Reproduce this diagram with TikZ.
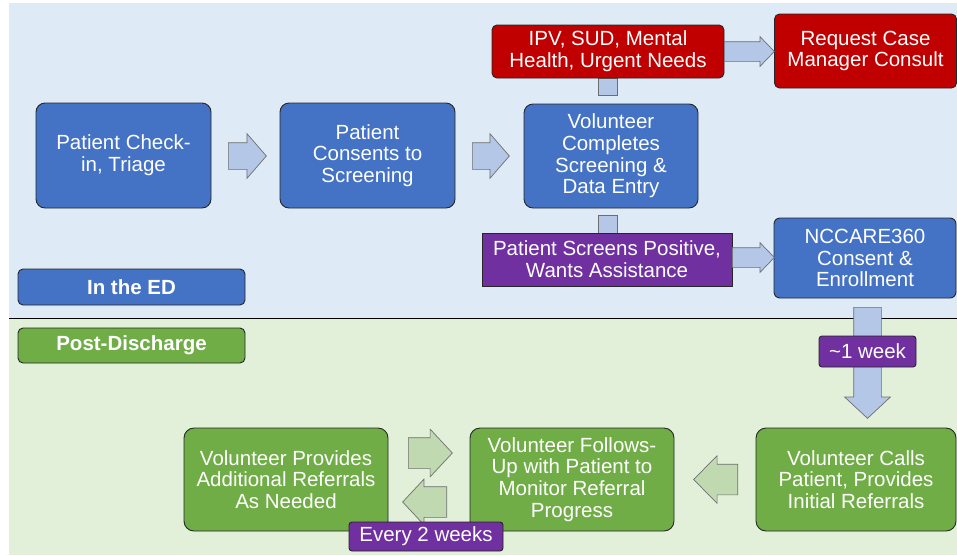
\documentclass[tikz,border=0pt]{standalone}
\usepackage{fontspec}
\setmainfont{Liberation Sans}
\usetikzlibrary{shapes.arrows}
\definecolor{bgblue}{HTML}{DEEBF7}
\definecolor{bggreen}{HTML}{E2F0D9}
\definecolor{boxblue}{HTML}{4472C4}
\definecolor{boxred}{HTML}{C00000}
\definecolor{boxpurple}{HTML}{7030A0}
\definecolor{boxgreen}{HTML}{70AD47}
\definecolor{arrblue}{HTML}{B4C7E7}
\definecolor{arrgreen}{HTML}{C0D9B0}
\definecolor{edgecol}{HTML}{262626}
\definecolor{arredge}{HTML}{6E6E6E}
\begin{document}
\begin{tikzpicture}[x=1pt,y=-1pt,
  box/.style={draw=edgecol, line width=0.9pt, text=white, align=center, inner sep=0pt,
    font=\fontsize{20.5}{21.7}\selectfont},
  sz/.style 2 args={minimum width=#1pt, minimum height=#2pt},
  bluebox/.style={box, fill=boxblue, rounded corners=9pt},
  redbox/.style={box, fill=boxred, rounded corners=5pt},
  purplebox/.style={box, fill=boxpurple},
  tagbox/.style={box, fill=boxpurple, rounded corners=3pt},
  greenbox/.style={box, fill=boxgreen, rounded corners=10pt},
  labelblue/.style={box, fill=boxblue, rounded corners=5pt, font=\fontsize{20.5}{21.7}\selectfont\bfseries},
  labelgreen/.style={box, fill=boxgreen, rounded corners=5pt, font=\fontsize{20.5}{21.7}\selectfont\bfseries},
  blockarrow/.style n args={4}{single arrow, draw=arredge, line width=0.7pt, inner xsep=0pt,
    minimum height=#1pt, inner ysep=#2pt, single arrow head extend=#3pt,
    single arrow tip angle=#4, minimum width=0pt, anchor=tail},
  barrow/.style={fill=arrblue},
  garrow/.style={fill=arrgreen},
  stub/.style={draw=arredge, line width=0.7pt, fill=arrblue, inner sep=0pt},
]
\useasboundingbox (0,0) rectangle (957,555);
\fill[white] (0,0) rectangle (957,555);
\fill[bgblue] (9,3) rectangle (957,318.5);
\fill[bggreen] (9,318.5) rectangle (957,555);
\draw[line width=1.4pt, black] (9,318.5) -- (957,318.5);

% top section
\node[bluebox, sz={175}{105}] (check) at (123.5,155.5) {Patient Check-\\in, Triage};
\node[bluebox, sz={175}{105}] (consent) at (367.5,155.5) {Patient\\Consents to\\Screening};
\node[bluebox, sz={174}{104}] (vol) at (611,156) {Volunteer\\Completes\\Screening \&\\Data Entry};
\node[stub, sz={19}{17}] (s1) at (607.5,86.5) {};
\node[stub, sz={19}{18}] (s2) at (607.5,224) {};
\node[redbox, sz={232}{53}] (ipv) at (608,51.5) {IPV, SUD, Mental\\Health, Urgent Needs};
\node[redbox, sz={182}{74}] (req) at (865.5,51) {Request Case\\Manager Consult};
\node[purplebox, sz={250}{53}] (pos) at (607,259.5) {Patient Screens Positive,\\Wants Assistance};
\node[bluebox, rounded corners=6pt, sz={182}{80}] (ncc) at (865,258) {NCCARE360\\Consent \&\\Enrollment};
\node[labelblue, sz={227}{36}] (ed) at (131.5,287) {In the ED};

\node[blockarrow={38}{13}{9}{98}, barrow] (a1) at (228,156) {};
\node[blockarrow={37}{13}{9}{98}, barrow] (a2) at (472,156) {};
\node[blockarrow={50}{9.5}{5}{92}, barrow] (a3) at (724,51.5) {};
\node[blockarrow={42}{9.5}{5}{92}, barrow] (a4) at (732,257.5) {};

% bottom section
\node[labelgreen, sz={227}{35}] (post) at (131.5,345.5) {\raisebox{-2pt}{Post-Discharge}};
\node[blockarrow={111}{13.5}{9}{94}, barrow, rotate=-90] (a5) at (867.5,307) {};
\node[tagbox, sz={97}{31}] (week) at (867.5,351.5) {{\char"007E}1 week};
\node[greenbox, sz={200}{103}] (calls) at (856,479.5) {Volunteer Calls\\Patient, Provides\\Initial Referrals};
\node[greenbox, sz={204}{103}] (follow) at (572,479.5) {Volunteer Follows-\\Up with Patient to\\Monitor Referral\\Progress};
\node[greenbox, sz={204}{103}] (addl) at (286,479.5) {Volunteer Provides\\Additional Referrals\\As Needed};
\node[blockarrow={44}{15}{8.5}{91}, garrow, rotate=180] (a6) at (738,479.5) {};
\node[blockarrow={44}{15}{8.5}{94}, garrow] (a7) at (408,453) {};
\node[blockarrow={44}{15}{7.5}{94}, garrow, rotate=180] (a8) at (447,502) {};
\node[tagbox, sz={154}{29}] (every) at (426,536.5) {Every 2 weeks};
\end{tikzpicture}
\end{document}
